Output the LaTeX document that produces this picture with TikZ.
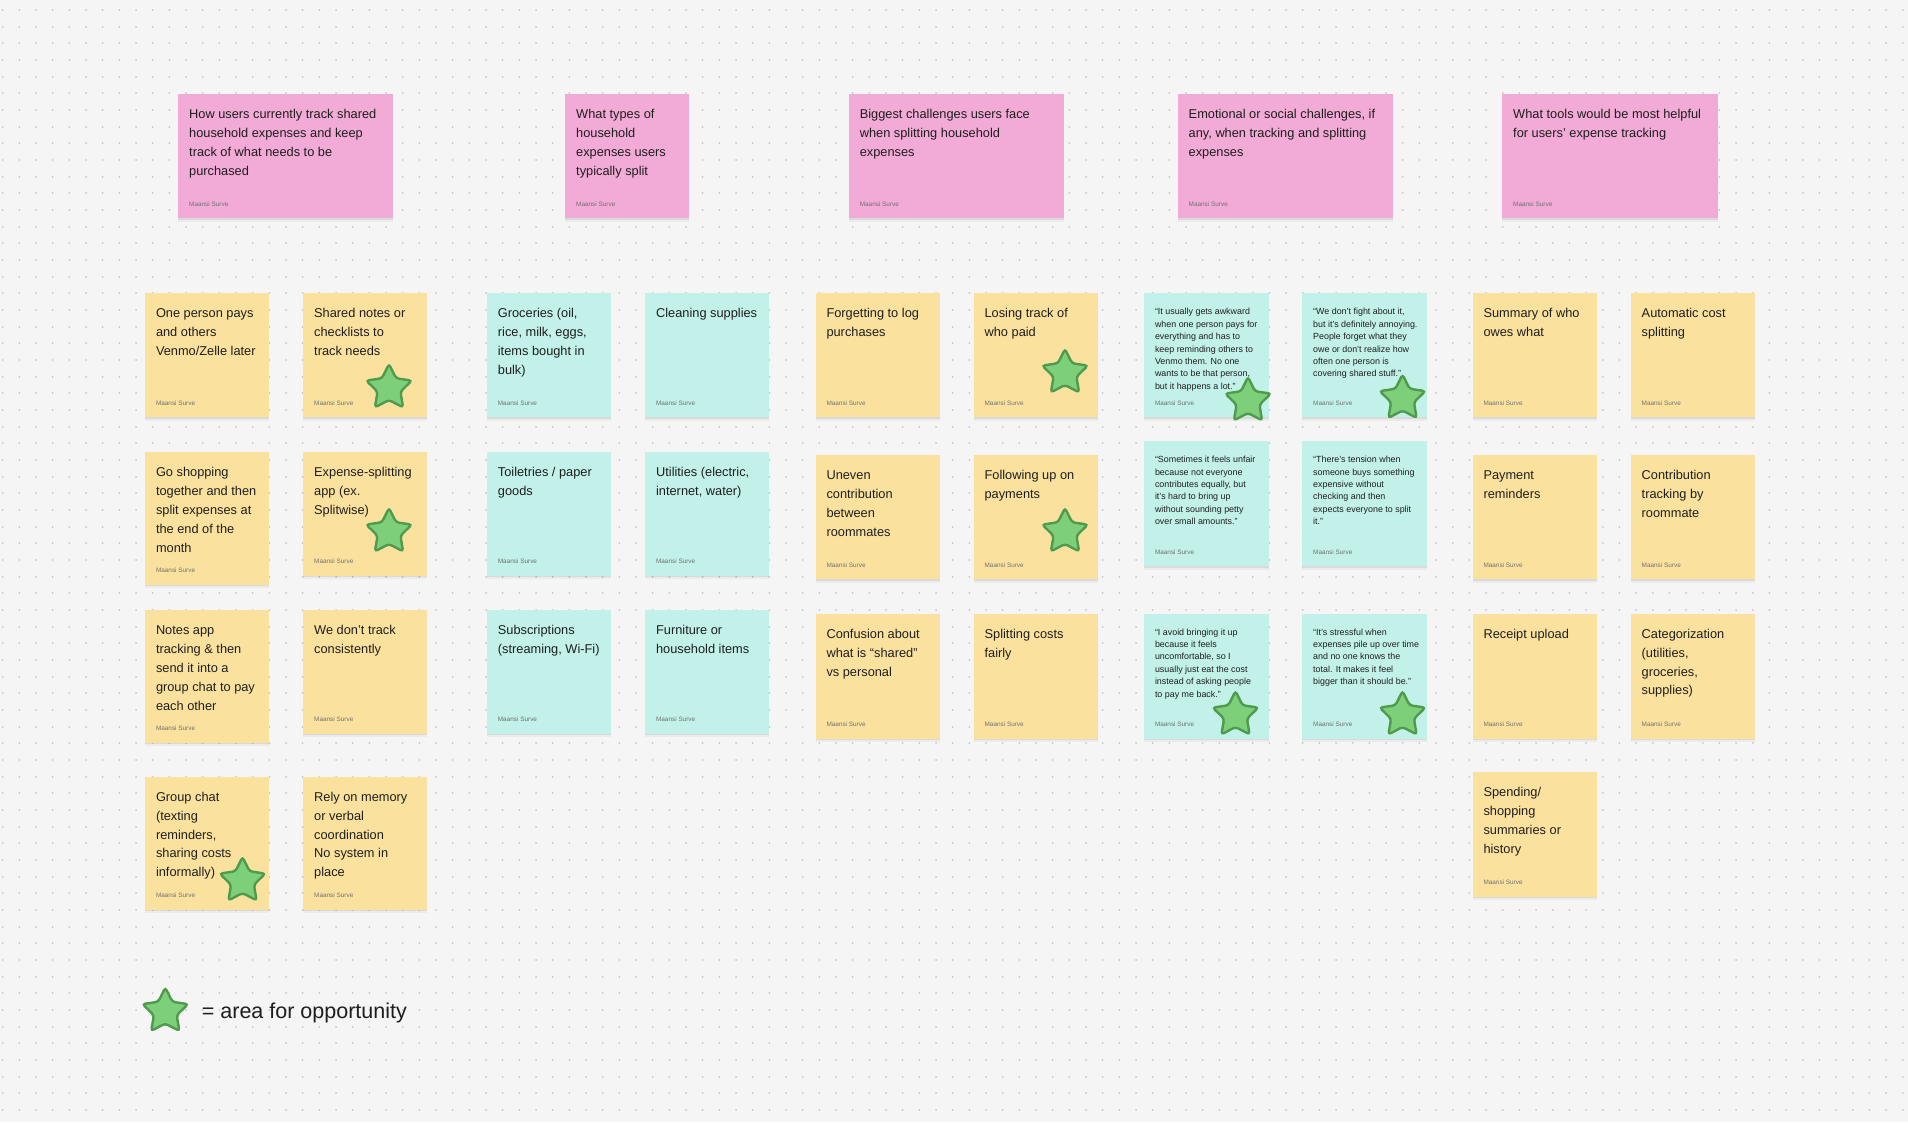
\documentclass[tikz,border=0pt]{standalone}
\usepackage{fontspec}
\setmainfont{Liberation Sans}
\usetikzlibrary{shapes.geometric,shadows}
\definecolor{bgc}{HTML}{F5F5F5}
\definecolor{dotc}{HTML}{C6C6C6}
\definecolor{yel}{HTML}{FAE29E}
\definecolor{cya}{HTML}{C2F1EA}
\definecolor{pnk}{HTML}{F2AAD7}
\definecolor{starfill}{HTML}{7ECF7A}
\definecolor{starline}{HTML}{4F9A4C}
\definecolor{ink}{HTML}{1E1E1E}
\definecolor{authc}{HTML}{707070}
\tikzset{
  notebase/.style={anchor=north west, inner sep=0pt, draw=none,
    drop shadow={shadow xshift=0pt, shadow yshift=-3.5pt, opacity=0.04, fill=black},
    drop shadow={shadow xshift=0pt, shadow yshift=-1.5pt, opacity=0.07, fill=black}},
  notetext/.style={anchor=north west, inner sep=0pt, align=left, text=ink,
    font=\fontsize{12.8}{18.9}\selectfont},
  quotetext/.style={anchor=north west, inner sep=0pt, align=left, text=ink,
    font=\fontsize{8.9}{12.4}\selectfont},
  author/.style={anchor=base west, inner sep=0pt, text=authc,
    font=\fontsize{6.4}{7}\selectfont},
  oppstar/.style={star, star points=5, star point ratio=2, minimum size=48pt,
    inner sep=0pt, fill=starfill, draw=starline, line width=2.4pt, rounded corners=3pt},
  dotgrid/.style={dotc, line width=2pt, line cap=round, dash pattern=on 0.01pt off 16.657pt},
  legendtext/.style={anchor=base west, inner sep=0pt, text=ink,
    font=\fontsize{21.5}{24}\selectfont}
}
\newcommand\basenote[9]{%
  \node[notebase, fill=#6, minimum width=#4pt, minimum height=#5pt] (#1) at (#2,#3) {};
  \node[#7] (#1-t) at ([shift={(11,15.2)}]#1.north west) {\rule{0pt}{#8pt}#9};
  \node[author] (#1-a) at ([shift={(11,-12.2)}]#1.south west) {Maansi Surve};
}
\newcommand\snote[6]{\basenote{#1}{#2}{#3}{124}{#4}{#5}{notetext}{9.5}{#6}}
\newcommand\qnote[5]{\basenote{#1}{#2}{#3}{125}{#4}{cya}{quotetext}{5.4}{#5}}
\newcommand\hnote[4]{\basenote{#1}{#2}{94}{#3}{124}{pnk}{notetext}{9.5}{#4}}
\begin{document}
\begin{tikzpicture}[x=1pt,y=-1pt]
\useasboundingbox (0,0) rectangle (1908,1122);
\fill[bgc] (0,0) rectangle (1908,1122);
\foreach \j in {0,...,66}
  \draw[dotgrid] (2.7,{10+16.667*\j}) -- (1908,{10+16.667*\j});

% headers
\hnote{h1}{178}{215}{How users currently track shared\\household expenses and keep\\track of what needs to be\\purchased}
\hnote{h2}{565}{124}{What types of\\household\\expenses users\\typically split}
\hnote{h3}{848.6}{215}{Biggest challenges users face\\when splitting household\\expenses}
\hnote{h4}{1177.5}{215}{Emotional or social challenges, if\\any, when tracking and splitting\\expenses}
\hnote{h5}{1502}{216}{What tools would be most helpful\\for users’ expense tracking}

% column 1
\snote{a1}{144.8}{293}{124}{yel}{One person pays\\and others\\Venmo/Zelle later}
\snote{a2}{144.8}{451.5}{133}{yel}{Go shopping\\together and then\\split expenses at\\the end of the\\month}
\snote{a3}{144.8}{609.6}{133}{yel}{Notes app\\tracking \& then\\send it into a\\group chat to pay\\each other}
\snote{a4}{144.8}{776.3}{133}{yel}{Group chat\\(texting\\reminders,\\sharing costs\\informally)}
% column 2
\snote{b1}{303}{293}{124}{yel}{Shared notes or\\checklists to\\track needs}
\snote{b2}{303}{451.5}{124}{yel}{Expense-splitting\\app (ex.\\Splitwise)}
\snote{b3}{303}{609.6}{124}{yel}{We don’t track\\consistently}
\snote{b4}{303}{776.3}{133}{yel}{Rely on memory\\or verbal\\coordination\\No system in\\place}
% column 3
\snote{c1}{486.7}{293}{124}{cya}{Groceries (oil,\\rice, milk, eggs,\\items bought in\\bulk)}
\snote{c2}{486.7}{451.5}{124}{cya}{Toiletries / paper\\goods}
\snote{c3}{486.7}{609.6}{124}{cya}{Subscriptions\\(streaming, Wi-Fi)}
% column 4
\snote{d1}{644.9}{293}{124}{cya}{Cleaning supplies}
\snote{d2}{644.9}{451.5}{124}{cya}{Utilities (electric,\\internet, water)}
\snote{d3}{644.9}{609.6}{124}{cya}{Furniture or\\household items}
% column 5
\snote{e1}{815.3}{293}{124}{yel}{Forgetting to log\\purchases}
\snote{e2}{815.3}{455}{124}{yel}{Uneven\\contribution\\between\\roommates}
\snote{e3}{815.3}{613.3}{125}{yel}{Confusion about\\what is “shared”\\vs personal}
% column 6
\snote{f1}{973.4}{293}{124}{yel}{Losing track of\\who paid}
\snote{f2}{973.4}{455}{124}{yel}{Following up on\\payments}
\snote{f3}{973.4}{613.3}{125}{yel}{Splitting costs\\fairly}
% column 7
\qnote{g1}{1143.8}{293}{124}{“It usually gets awkward\\when one person pays for\\everything and has to\\keep reminding others to\\Venmo them. No one\\wants to be that person,\\but it happens a lot.”}
\qnote{g2}{1143.8}{440.8}{125}{“Sometimes it feels unfair\\because not everyone\\contributes equally, but\\it’s hard to bring up\\without sounding petty\\over small amounts.”}
\qnote{g3}{1143.8}{613.3}{125}{“I avoid bringing it up\\because it feels\\uncomfortable, so I\\usually just eat the cost\\instead of asking people\\to pay me back.”}
% column 8
\qnote{k1}{1302}{293}{124}{“We don’t fight about it,\\but it’s definitely annoying.\\People forget what they\\owe or don’t realize how\\often one person is\\covering shared stuff.”}
\qnote{k2}{1302}{440.8}{125}{“There’s tension when\\someone buys something\\expensive without\\checking and then\\expects everyone to split\\it.”}
\qnote{k3}{1302}{613.3}{125}{“It’s stressful when\\expenses pile up over time\\and no one knows the\\total. It makes it feel\\bigger than it should be.”}
% column 9
\snote{m1}{1472.3}{293}{124}{yel}{Summary of who\\owes what}
\snote{m2}{1472.3}{455}{124}{yel}{Payment\\reminders}
\snote{m3}{1472.3}{613.3}{125}{yel}{Receipt upload}
\snote{m4}{1472.3}{771.5}{125}{yel}{Spending/\\shopping\\summaries or\\history}
% column 10
\snote{n1}{1630.5}{293}{124}{yel}{Automatic cost\\splitting}
\snote{n2}{1630.5}{455}{124}{yel}{Contribution\\tracking by\\roommate}
\snote{n3}{1630.5}{613.3}{125}{yel}{Categorization\\(utilities,\\groceries,\\supplies)}

% stars
\node[oppstar] (sb1) at (389,388) {};
\node[oppstar] (sb2) at (389,532) {};
\node[oppstar] (sa4) at (242.5,881) {};
\node[oppstar] (sf1) at (1065,373) {};
\node[oppstar] (sf2) at (1065,532) {};
\node[oppstar] (sg1) at (1248,401) {};
\node[oppstar] (sk1) at (1402.5,398.5) {};
\node[oppstar] (sg3) at (1235.5,715) {};
\node[oppstar] (sk3) at (1402.5,715) {};

% legend
\node[oppstar] (lgstar) at (165.3,1011.5) {};
\node[legendtext] (lgtext) at (201.7,1018.5) {= area for opportunity};
\end{tikzpicture}
\end{document}
